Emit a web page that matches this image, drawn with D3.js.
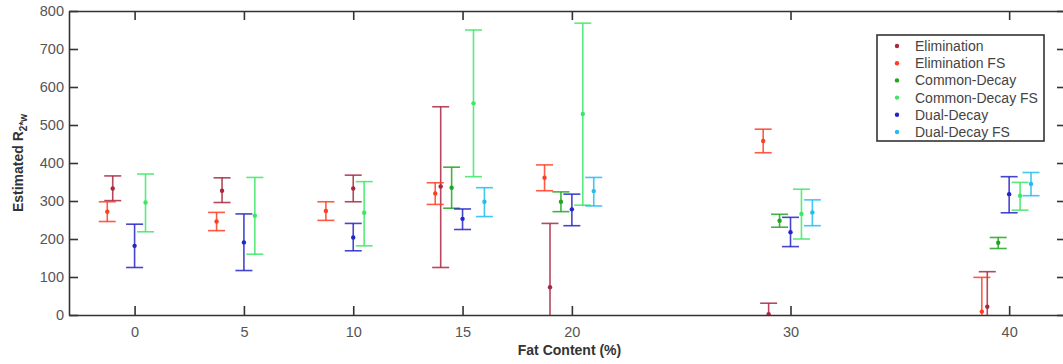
<!DOCTYPE html>
<html>
<head>
<meta charset="utf-8">
<script src="https://cdn.jsdelivr.net/npm/d3@7"></script>
<style>
  body { margin: 0; background: #fff; }
  svg { display: block; font-family: "Liberation Sans", Arial, sans-serif; }
</style>
</head>
<body>
<svg id="chart" width="1063" height="364"></svg>
<script>
// values (x = fat content incl. group offset)
const seriesNames = ["Elimination", "Elimination FS", "Common-Decay", "Common-Decay FS", "Dual-Decay", "Dual-Decay FS"];
const seriesColors = ["#a8283f", "#ff3d22", "#22a522", "#3be866", "#2424c8", "#22bdf0"];

const elimX = [-1, 4, 10, 14, 19, 29, 39];
const elimMid = [333, 327, 333, 338, 73, 2, 22];
const elimLo = [301, 296, 298, 125, -95, -26, -70];
const elimHi = [366, 361, 368, 548, 241, 31, 114];

const elimFsX = [-1.25, 3.75, 8.75, 13.75, 18.75, 28.75, 38.75];
const elimFsMid = [272, 246, 274, 320, 361, 458, 9];
const elimFsLo = [246, 222, 249, 291, 327, 427, -80];
const elimFsHi = [298, 270, 298, 348, 395, 489, 99];

const cdX = [14.5, 19.5, 29.5, 39.5];
const cdMid = [335, 298, 248, 190];
const cdLo = [281, 272, 231, 175];
const cdHi = [389, 324, 265, 204];

const cdFsX = [0.5, 5.5, 10.5, 15.5, 20.5, 30.5, 40.5];
const cdFsMid = [296, 261, 269, 557, 529, 266, 314];
const cdFsLo = [219, 160, 182, 364, 289, 200, 276];
const cdFsHi = [371, 362, 351, 750, 768, 331, 349];

const ddX = [0, 5, 10, 15, 20, 30, 40];
const ddMid = [182, 191, 204, 253, 278, 218, 318];
const ddLo = [125, 117, 169, 225, 235, 180, 269];
const ddHi = [239, 266, 241, 279, 318, 257, 364];

const ddFsX = [16, 21, 31, 41];
const ddFsMid = [298, 326, 270, 345];
const ddFsLo = [259, 287, 235, 314];
const ddFsHi = [335, 362, 303, 375];

const xTicks = [0, 5, 10, 15, 20, 30, 40];
const yTicks = [0, 100, 200, 300, 400, 500, 600, 700, 800];

const seriesData = [
  [elimX, elimMid, elimLo, elimHi],
  [elimFsX, elimFsMid, elimFsLo, elimFsHi],
  [cdX, cdMid, cdLo, cdHi],
  [cdFsX, cdFsMid, cdFsLo, cdFsHi],
  [ddX, ddMid, ddLo, ddHi],
  [ddFsX, ddFsMid, ddFsLo, ddFsHi]
].map((s, i) => ({
  name: seriesNames[i],
  color: seriesColors[i],
  points: s[0].map((x, j) => ({ x: x, y: s[1][j], lo: s[2][j], hi: s[3][j] }))
}));

const svg = d3.select("#chart");
const mLeft = 69, mTop = 11, mRight = 1066, mBottom = 315;

const x = d3.scaleLinear().domain([-3, 42.6]).range([mLeft, mRight]);
const y = d3.scaleLinear().domain([0, 800]).range([mBottom, mTop]);

svg.append("defs").append("clipPath").attr("id", "plotclip")
  .append("rect")
  .attr("x", mLeft).attr("y", mTop)
  .attr("width", mRight - mLeft).attr("height", mBottom - mTop);

const axisColor = "#333";
const tickLen = 9;

// axes with inward ticks, MATLAB box style
const gx = svg.append("g").attr("transform", `translate(0,${mBottom})`)
  .call(d3.axisBottom(x).tickValues(xTicks).tickSizeInner(-tickLen).tickSizeOuter(0).tickPadding(12));
const gxTop = svg.append("g").attr("transform", `translate(0,${mTop})`)
  .call(d3.axisTop(x).tickValues(xTicks).tickSizeInner(-tickLen).tickSizeOuter(0).tickFormat(""));
const gy = svg.append("g").attr("transform", `translate(${mLeft},0)`)
  .call(d3.axisLeft(y).tickValues(yTicks).tickSizeInner(-tickLen).tickSizeOuter(0).tickPadding(5));
const gyRight = svg.append("g").attr("transform", `translate(${mRight},0)`)
  .call(d3.axisRight(y).tickValues(yTicks).tickSizeInner(-tickLen).tickSizeOuter(0).tickFormat(""));

[gx, gxTop, gy, gyRight].forEach(g => {
  g.select(".domain").attr("stroke", axisColor).attr("stroke-width", 1.6);
  g.selectAll(".tick line").attr("stroke", axisColor).attr("stroke-width", 1.6);
  g.selectAll(".tick text").attr("fill", "#555").style("font-size", "14.5px");
});

// error bars
const plot = svg.append("g").attr("clip-path", "url(#plotclip)");
const capHalf = 8.5;

seriesData.forEach(s => {
  const g = plot.append("g").attr("stroke", s.color).attr("fill", s.color)
    .attr("stroke-width", 1.6).attr("stroke-opacity", 0.85);
  const bars = g.selectAll(".bar").data(s.points).enter().append("g").attr("class", "bar");
  bars.append("line")
    .attr("x1", d => x(d.x)).attr("x2", d => x(d.x))
    .attr("y1", d => y(d.lo)).attr("y2", d => y(d.hi));
  bars.append("line")
    .attr("x1", d => x(d.x) - capHalf).attr("x2", d => x(d.x) + capHalf)
    .attr("y1", d => y(d.hi)).attr("y2", d => y(d.hi));
  bars.append("line")
    .attr("x1", d => x(d.x) - capHalf).attr("x2", d => x(d.x) + capHalf)
    .attr("y1", d => y(d.lo)).attr("y2", d => y(d.lo));
  bars.append("circle")
    .attr("cx", d => x(d.x)).attr("cy", d => y(d.y))
    .attr("r", 2.2).attr("stroke", "none");
});

// axis labels
svg.append("text")
  .attr("x", (mLeft + mRight) / 2 + 2).attr("y", 355)
  .attr("text-anchor", "middle")
  .style("font-size", "14px").style("font-weight", "bold").attr("fill", "#333")
  .text("Fat Content (%)");

const yl = svg.append("text")
  .attr("transform", `translate(23,${(mTop + mBottom) / 2}) rotate(-90)`)
  .attr("text-anchor", "middle")
  .style("font-size", "14px").style("font-weight", "bold").attr("fill", "#333");
yl.append("tspan").text("Estimated R");
yl.append("tspan").attr("dy", 4).style("font-size", "10px").text("2*w");

// legend
const lg = svg.append("g");
lg.append("rect")
  .attr("x", 877).attr("y", 35).attr("width", 167).attr("height", 106)
  .attr("fill", "#fff").attr("stroke", "#333").attr("stroke-width", 1.6);
seriesData.forEach((s, i) => {
  const ly = 46 + i * 17.2;
  lg.append("circle").attr("cx", 897).attr("cy", ly).attr("r", 2.2).attr("fill", s.color);
  lg.append("text").attr("x", 915).attr("y", ly + 5)
    .style("font-size", "14px").attr("fill", "#444").text(s.name);
});
</script>
</body>
</html>
